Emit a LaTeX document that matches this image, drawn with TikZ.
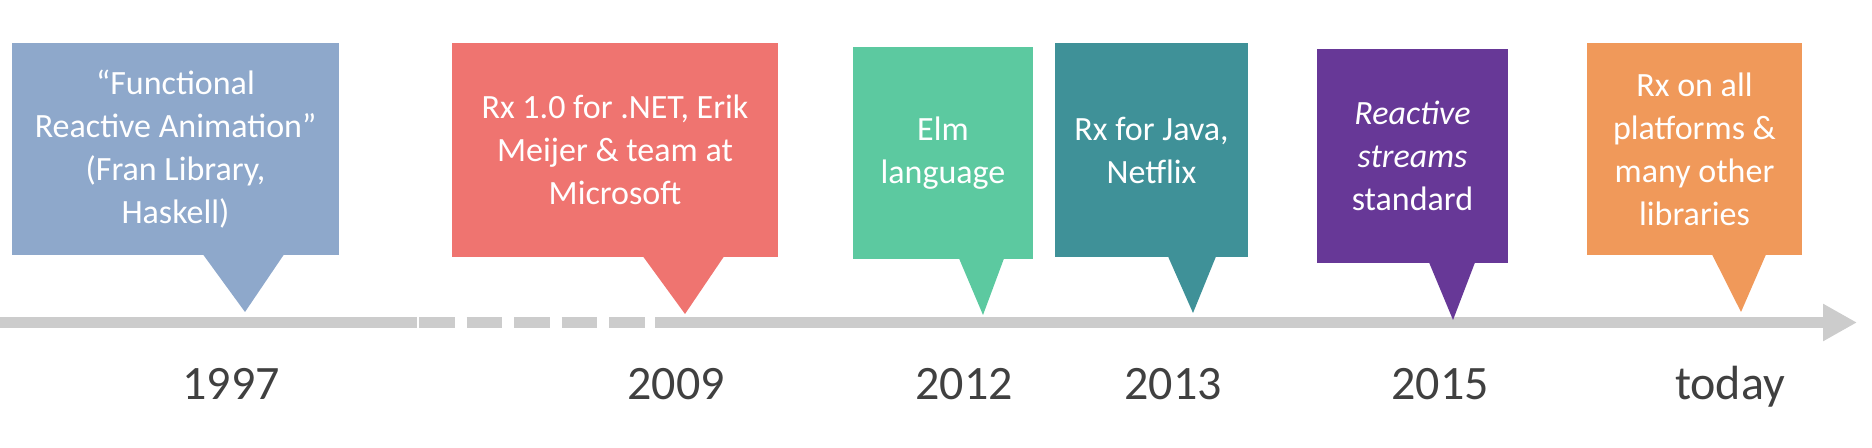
\documentclass[tikz,border=0pt]{standalone}
\usepackage{fontspec}
\setmainfont{Carlito}
\usetikzlibrary{arrows.meta}

\definecolor{franblue}{HTML}{8EA8CB}
\definecolor{netred}{HTML}{EF7470}
\definecolor{elmgreen}{HTML}{5CC9A0}
\definecolor{javateal}{HTML}{3F9198}
\definecolor{streampurple}{HTML}{673897}
\definecolor{allorange}{HTML}{F0995A}
\definecolor{axisgray}{HTML}{CCCCCC}
\definecolor{yeargray}{HTML}{404040}

\begin{document}
\begin{tikzpicture}[x=0.5pt, y=-0.5pt,
    event/.style={fill=#1, text=white, inner sep=0pt, align=center, font=\fontsize{17}{21.5}\selectfont},
    year/.style={anchor=base, text=yeargray, font=\fontsize{24}{28}\selectfont},
    axis/.style={draw=axisgray, line width=5.5pt}
  ]
    \useasboundingbox (0,0) rectangle (1872,448);

    \coordinate (start) at (0,322.5);
    \coordinate (gapL) at (417,322.5);
    \coordinate (dashL) at (419,322.5);
    \coordinate (dashR) at (645,322.5);
    \coordinate (gapR) at (655,322.5);
    \coordinate (now) at (1857,322.5);
    \draw[axis] (start) -- (gapL);
    \draw[axis, dash pattern=on 17.75pt off 6pt] (dashL) -- (dashR);
    \draw[axis, -{Triangle[length=17pt,width=17.5pt]}] (gapR) -- (now);

    \node[event=franblue, minimum width=163.5pt, minimum height=106pt] (fran) at (175.5,149)
      {``Functional\\Reactive Animation''\\(Fran Library,\\Haskell)};
    \node[event=netred, minimum width=163pt, minimum height=107pt] (rxnet) at (615,150)
      {Rx 1.0 for .NET, Erik\\Meijer \& team at\\Microsoft};
    \node[event=elmgreen, minimum width=90pt, minimum height=106pt] (elm) at (943,153)
      {Elm\\language};
    \node[event=javateal, minimum width=96.5pt, minimum height=107pt] (rxjava) at (1151.5,150)
      {Rx for Java,\\Netflix};
    \node[event=streampurple, minimum width=95.5pt, minimum height=107pt] (streams) at (1412.5,156)
      {\textit{Reactive}\\\textit{streams}\\standard};
    \node[event=allorange, minimum width=107.5pt, minimum height=106pt] (rxall) at (1694.5,149)
      {Rx on all\\platforms \&\\many other\\libraries};

    \coordinate (t1997) at (245,312);
    \coordinate (t2009) at (685,314);
    \coordinate (t2012) at (983,315);
    \coordinate (t2013) at (1193,313);
    \coordinate (t2015) at (1453,320);
    \coordinate (ttoday) at (1741,312);
    \fill[franblue] ([xshift=13.75pt,yshift=0.5pt]fran.south) -- (t1997) -- ([xshift=54.25pt,yshift=0.5pt]fran.south) -- cycle;
    \fill[netred] ([xshift=14pt,yshift=0.5pt]rxnet.south) -- (t2009) -- ([xshift=54.5pt,yshift=0.5pt]rxnet.south) -- cycle;
    \fill[elmgreen] ([xshift=8pt,yshift=0.5pt]elm.south) -- (t2012) -- ([xshift=30.5pt,yshift=0.5pt]elm.south) -- cycle;
    \fill[javateal] ([xshift=8.25pt,yshift=0.5pt]rxjava.south) -- (t2013) -- ([xshift=32.25pt,yshift=0.5pt]rxjava.south) -- cycle;
    \fill[streampurple] ([xshift=8.25pt,yshift=0.5pt]streams.south) -- (t2015) -- ([xshift=31.25pt,yshift=0.5pt]streams.south) -- cycle;
    \fill[allorange] ([xshift=8.75pt,yshift=0.5pt]rxall.south) -- (ttoday) -- ([xshift=35.75pt,yshift=0.5pt]rxall.south) -- cycle;

    \node[year] (y1997) at (231,400) {1997};
    \node[year] (y2009) at (676,400) {2009};
    \node[year] (y2012) at (964,400) {2012};
    \node[year] (y2013) at (1173,400) {2013};
    \node[year] (y2015) at (1440,400) {2015};
    \node[year] (ytoday) at (1730,400) {today};
  \end{tikzpicture}
\end{document}
